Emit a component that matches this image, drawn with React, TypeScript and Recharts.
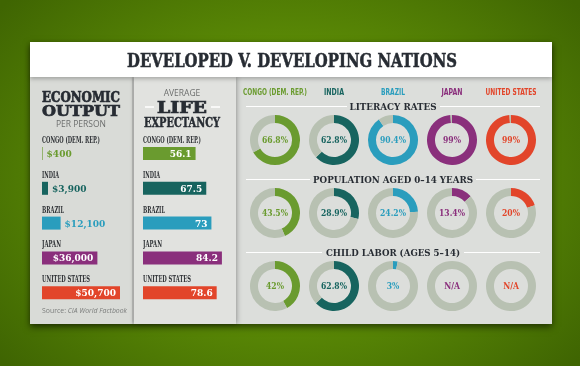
import React from 'react'
import { BarChart, Bar, XAxis, YAxis, Cell, LabelList, PieChart, Pie, Label } from 'recharts'

const countries = ['CONGO (DEM. REP.)', 'INDIA', 'BRAZIL', 'JAPAN', 'UNITED STATES']
const countryColors = ['#6a9b2f', '#17645f', '#2a9dbd', '#8a2f7c', '#e2452a']
const gdpPerPerson = [400, 3900, 12100, 36000, 50700]
const gdpLabels = ['$400', '$3,900', '$12,100', '$36,000', '$50,700']
const lifeExpectancy = [56.1, 67.5, 73, 84.2, 78.6]
const lifeLabels = ['56.1', '67.5', '73', '84.2', '78.6']
const literacyRates = [66.8, 62.8, 90.4, 99, 99]
const youngPopulation = [43.5, 28.9, 24.2, 13.4, 20]
const childLabor: (number | null)[] = [42, 62.8, 3, null, null]

// widths of the condensed country names above the bars
const nameWidths = [58, 17, 22, 19, 48]
const headerWidths = [64, 20, 24, 21, 51]

const RING_GRAY = '#b8c1b2'
const DARK = '#272c33'
const SLAB = "'DejaVu Serif Condensed', 'DejaVu Serif', serif"
const SANS = "'Open Sans', 'Liberation Sans', sans-serif"

interface BarsProps {
  values: number[]
  labels: string[]
  max: number
  left: number
}

function CountryBars({ values, labels, max, left }: BarsProps) {
  const data = countries.map((c, i) => ({ country: c, value: values[i], label: labels[i] }))

  const renderLabel = (props: any) => {
    const { x, y, width, height, index } = props
    const inside = width > 30
    return (
      <g>
        <text
          x={x}
          y={y - 4}
          fontFamily={SLAB}
          fontWeight="bold"
          fontSize={9}
          fill="#2e3135"
          textLength={nameWidths[index]}
          lengthAdjust="spacingAndGlyphs"
        >
          {countries[index]}
        </text>
        <text
          x={inside ? x + width - 4 : x + width + 4}
          y={y + height / 2 + 3.5}
          textAnchor={inside ? 'end' : 'start'}
          fontFamily={SLAB}
          fontWeight="bold"
          fontSize={10}
          fill={inside ? '#ffffff' : countryColors[index]}
        >
          {data[index].label}
        </text>
      </g>
    )
  }

  return (
    <div style={{ position: 'absolute', left, top: 120 }}>
      <BarChart
        layout="vertical"
        width={100}
        height={190}
        data={data}
        margin={{ top: 16, right: 0, bottom: 0, left: 0 }}
      >
        <XAxis type="number" domain={[0, max]} hide />
        <YAxis type="category" dataKey="country" hide />
        <Bar dataKey="value" barSize={13} isAnimationActive={false}>
          {data.map((d, i) => (
            <Cell key={d.country} fill={countryColors[i]} />
          ))}
          <LabelList dataKey="label" content={renderLabel} />
        </Bar>
      </BarChart>
    </div>
  )
}

function Donut({ value, color }: { value: number | null; color: string }) {
  const data = value == null
    ? [{ name: 'share', v: 0 }, { name: 'rest', v: 100 }]
    : [{ name: 'share', v: value }, { name: 'rest', v: 100 - value }]
  const text = value == null ? 'N/A' : `${value}%`
  return (
    <PieChart width={54} height={54}>
      <Pie
        data={data}
        dataKey="v"
        cx="50%"
        cy="50%"
        innerRadius={17}
        outerRadius={25}
        startAngle={90}
        endAngle={-270}
        stroke="none"
        isAnimationActive={false}
      >
        <Cell fill={color} />
        <Cell fill={RING_GRAY} />
        <Label
          position="center"
          value={text}
          fill={color}
          fontFamily={SLAB}
          fontWeight="bold"
          fontSize={8.5}
        />
      </Pie>
    </PieChart>
  )
}

function DonutRow({ values, top }: { values: (number | null)[]; top: number }) {
  return (
    <div style={{ position: 'absolute', left: 248, top, display: 'flex', gap: 5 }}>
      {values.map((v, i) => (
        <Donut key={countries[i]} value={v} color={countryColors[i]} />
      ))}
    </div>
  )
}

function SectionTitle({ text, y, width, x1, x2 }: { text: string; y: number; width: number; x1: number; x2: number }) {
  return (
    <g>
      <line x1={246} x2={x1} y1={y - 3.5} y2={y - 3.5} stroke="#ffffff" strokeWidth={1.2} />
      <line x1={x2} x2={540} y1={y - 3.5} y2={y - 3.5} stroke="#ffffff" strokeWidth={1.2} />
      <text
        x={393}
        y={y}
        textAnchor="middle"
        fontFamily={SLAB}
        fontWeight="bold"
        fontSize={9.5}
        fill={DARK}
        textLength={width}
        lengthAdjust="spacingAndGlyphs"
      >
        {text}
      </text>
    </g>
  )
}

export default function App() {
  const donutCenters = countries.map((_, i) => 275 + i * 59)
  return (
    <div
      style={{
        position: 'fixed',
        left: 0,
        top: 0,
        width: 580,
        height: 366,
        overflow: 'hidden',
        background: 'radial-gradient(ellipse 65% 75% at 50% 50%, #6ea10a 0%, #5d8d06 45%, #3f6502 100%)',
        fontFamily: SANS,
      }}
    >
      {/* card */}
      <div
        style={{
          position: 'absolute',
          left: 30,
          top: 42,
          width: 522,
          height: 282,
          background: '#dcdedb',
          boxShadow: '0 3px 7px rgba(0,0,0,0.55)',
        }}
      >
        <div
          style={{
            position: 'absolute', left: 0, top: 35, width: 102, height: 247,
            background: '#d9dbd7', boxShadow: '1px 0 4px rgba(0,0,0,0.22)',
          }}
        />
        <div
          style={{
            position: 'absolute', left: 104, top: 35, width: 102, height: 247,
            background: '#e1e2df', boxShadow: '1px 0 5px rgba(0,0,0,0.3), -1px 0 3px rgba(0,0,0,0.12)',
          }}
        />
        <div
          style={{
            position: 'absolute', left: 0, top: 0, width: 522, height: 35,
            background: '#ffffff', boxShadow: '0 2px 4px rgba(0,0,0,0.25)',
          }}
        />
      </div>

      <CountryBars values={gdpPerPerson} labels={gdpLabels} max={65000} left={42} />
      <CountryBars values={lifeExpectancy} labels={lifeLabels} max={106.7} left={143} />

      <DonutRow values={literacyRates} top={113} />
      <DonutRow values={youngPopulation} top={186} />
      <DonutRow values={childLabor} top={259} />

      <svg width={580} height={366} style={{ position: 'absolute', left: 0, top: 0, pointerEvents: 'none' }}>
        <text
          x={292} y={67} textAnchor="middle" fontFamily={SLAB} fontWeight="bold" fontSize={19}
          fill={DARK} stroke={DARK} strokeWidth={0.5} textLength={330} lengthAdjust="spacingAndGlyphs"
        >
          DEVELOPED V. DEVELOPING NATIONS
        </text>

        {/* economic output heading */}
        <text x={42} y={102} fontFamily={SLAB} fontWeight="bold" fontSize={14} fill={DARK}
          stroke={DARK} strokeWidth={0.6} textLength={78} lengthAdjust="spacingAndGlyphs">ECONOMIC</text>
        <text x={42} y={115.5} fontFamily={SLAB} fontWeight="bold" fontSize={14} fill={DARK}
          stroke={DARK} strokeWidth={0.6} textLength={78} lengthAdjust="spacingAndGlyphs">OUTPUT</text>
        <text x={81} y={127} textAnchor="middle" fontFamily={SANS} fontSize={8.5} fill="#6d6f6e">PER PERSON</text>

        {/* life expectancy heading */}
        <text x={182} y={96} textAnchor="middle" fontFamily={SANS} fontSize={8.5} fill="#6d6f6e">AVERAGE</text>
        <line x1={145} x2={154} y1={107} y2={107} stroke="#ffffff" strokeWidth={1.5} />
        <line x1={211} x2={220} y1={107} y2={107} stroke="#ffffff" strokeWidth={1.5} />
        <text x={182} y={113} textAnchor="middle" fontFamily={SLAB} fontWeight="bold" fontSize={16.5} fill={DARK}
          stroke={DARK} strokeWidth={0.7} textLength={50} lengthAdjust="spacingAndGlyphs">LIFE</text>
        <text x={182} y={126.5} textAnchor="middle" fontFamily={SLAB} fontWeight="bold" fontSize={12} fill={DARK}
          stroke={DARK} strokeWidth={0.4} textLength={76} lengthAdjust="spacingAndGlyphs">EXPECTANCY</text>

        <text x={42} y={313} fontFamily={SANS} fontSize={7.5} fill="#7b7d7c"
          textLength={85} lengthAdjust="spacingAndGlyphs">
          Source: <tspan fontStyle="italic">CIA World Factbook</tspan>
        </text>

        {/* donut panel headers */}
        {countries.map((c, i) => (
          <text
            key={c}
            x={donutCenters[i]}
            y={95}
            textAnchor="middle"
            fontFamily="'Liberation Sans Narrow', 'DejaVu Sans Condensed', sans-serif"
            fontWeight="bold"
            fontSize={8}
            fill={countryColors[i]}
            textLength={headerWidths[i]}
            lengthAdjust="spacingAndGlyphs"
          >
            {c}
          </text>
        ))}

        <SectionTitle text="LITERACY RATES" y={110} width={87} x1={347} x2={440} />
        <SectionTitle text="POPULATION AGED 0–14 YEARS" y={183} width={160} x1={310} x2={476} />
        <SectionTitle text="CHILD LABOR (AGES 5–14)" y={256} width={134} x1={322} x2={464} />
      </svg>
    </div>
  )
}
